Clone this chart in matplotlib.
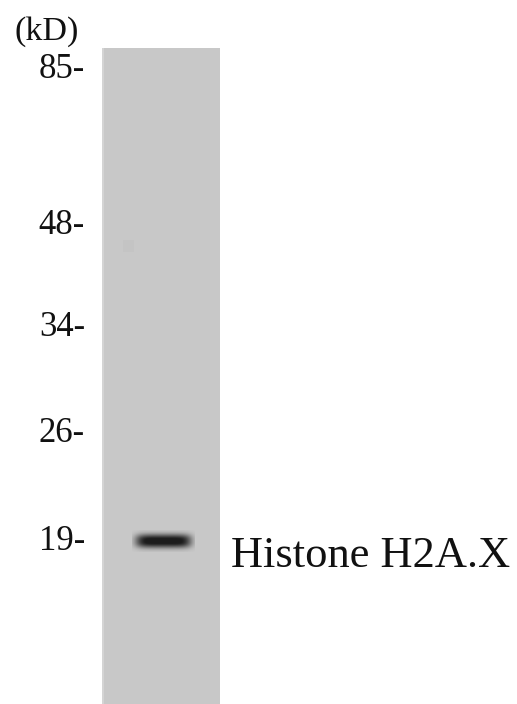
import matplotlib
matplotlib.use("Agg")
import matplotlib.pyplot as plt
import numpy as np
from matplotlib.patches import Rectangle

# marker ladder (kD) and where each one ran on the blot (pixel rows)
marker_kd = ["85", "48", "34", "26", "19"]
marker_row = [66, 222, 324, 430, 538]

# the single detected band
band_label = "Histone H2A.X"
band_row = 541
band_kd = "19"

W, H = 517, 704
fig = plt.figure(figsize=(W / 100, H / 100), dpi=100)
ax = fig.add_axes([0, 0, 1, 1])
ax.set_xlim(0, W)
ax.set_ylim(H, 0)
ax.axis("off")

serif = ["Liberation Serif", "DejaVu Serif"]

# lane
lane_x0, lane_x1, lane_top = 102, 220, 48
ax.add_patch(Rectangle((lane_x0, lane_top), lane_x1 - lane_x0, H - lane_top,
                       facecolor="#c8c8c8", edgecolor="none", zorder=1))
ax.add_patch(Rectangle((lane_x0, lane_top), 2, H - lane_top,
                       facecolor="#d4d4d4", edgecolor="none", zorder=2))

# faint smudge near 48
ax.add_patch(Rectangle((123, 240), 11, 12, facecolor="#c4c4c4",
                       edgecolor="none", zorder=2))

# band as a soft capsule
bx0, bx1 = 132, 195
bh = 22
xs = np.linspace(-1, 1, 200)
ys = np.linspace(-1, 1, 60)
X, Y = np.meshgrid(xs, ys)
prof = np.exp(-(np.abs(X) / 0.88) ** 6) * np.exp(-(np.abs(Y) / 0.62) ** 2.5)
rgba = np.zeros((60, 200, 4))
rgba[..., :3] = 0.11
rgba[..., 3] = np.clip(prof * 1.1, 0, 1)
ax.imshow(rgba, extent=(bx0, bx1, band_row + bh / 2, band_row - bh / 2),
          aspect="auto", zorder=3, interpolation="bilinear")
ax.set_xlim(0, W)
ax.set_ylim(H, 0)

# labels
ax.text(15, 40, "(kD)", fontsize=24.5, family=serif, color="#111111",
        ha="left", va="baseline")
for kd, row in zip(marker_kd, marker_row):
    ax.text(85, row + 12.5, kd + "-", fontsize=25, family=serif,
            color="#111111", ha="right", va="baseline")

ax.text(231, 567, band_label, fontsize=32, family=serif, color="#111111",
        ha="left", va="baseline")

fig.savefig("out.png", dpi=100)
